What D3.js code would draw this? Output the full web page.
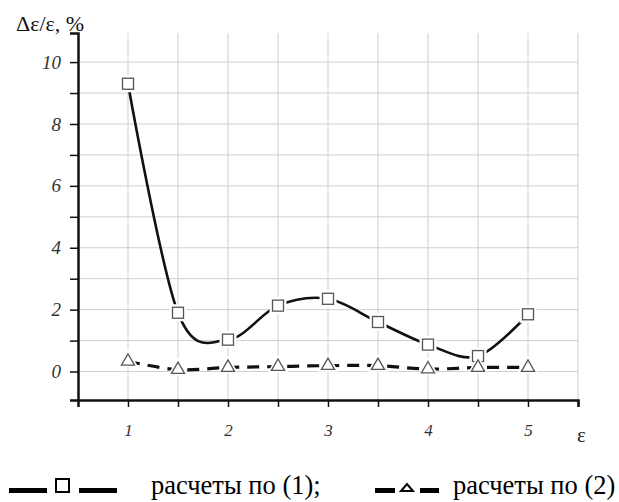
<!DOCTYPE html>
<html>
<head>
<meta charset="utf-8">
<script src="https://cdn.jsdelivr.net/npm/d3@7"></script>
</head>
<body style="margin:0; background:#fff">
<script>
var xValues = [1, 1.5, 2, 2.5, 3, 3.5, 4, 4.5, 5];
var series1 = [9.3, 1.9, 1.03, 2.13, 2.35, 1.6, 0.87, 0.5, 1.85];
var series2 = [0.33, 0.06, 0.13, 0.16, 0.19, 0.19, 0.08, 0.13, 0.13];
var yTickLabels = [0, 2, 4, 6, 8, 10];
var xTickLabels = [1, 2, 3, 4, 5];
var legendLabels = ["расчеты по (1);", "расчеты по (2)"];

var serif = "'Liberation Serif', 'Times New Roman', serif";
var width = 619, height = 502;

var x = d3.scaleLinear().domain([0.5, 5.5]).range([78, 578]);
var y = d3.scaleLinear().domain([-0.92, 10.94]).range([400, 33]);

var svg = d3.select("body").append("svg")
    .attr("width", width)
    .attr("height", height)
    .style("display", "block");

// grid
var grid = svg.append("g").attr("stroke", "#cfcfcf").attr("stroke-width", 1);
grid.selectAll("line.h")
    .data(d3.range(0, 11))
    .enter().append("line")
    .attr("x1", x(0.5)).attr("x2", x(5.5))
    .attr("y1", function(d) { return y(d); })
    .attr("y2", function(d) { return y(d); });
grid.selectAll("line.v")
    .data(d3.range(1, 5.6, 0.5))
    .enter().append("line")
    .attr("x1", function(d) { return x(d); })
    .attr("x2", function(d) { return x(d); })
    .attr("y1", y(10.94)).attr("y2", y(-0.92));

// axes
var yAxis = d3.axisLeft(y)
    .tickValues(d3.range(0, 11))
    .tickSize(8)
    .tickFormat(function(d) { return yTickLabels.indexOf(d) >= 0 ? d : ""; });
var gy = svg.append("g")
    .attr("transform", "translate(" + x(0.5) + ",0)")
    .attr("font-family", serif)
    .call(yAxis);

var xAxis = d3.axisBottom(x)
    .tickValues(d3.range(1, 5.6, 0.5))
    .tickSize(7)
    .tickFormat(function(d) { return xTickLabels.indexOf(d) >= 0 ? d : ""; });
var gx = svg.append("g")
    .attr("transform", "translate(0," + y(-0.92) + ")")
    .call(xAxis);

[gx, gy].forEach(function(g) {
    g.attr("font-family", serif);
    g.select(".domain").attr("stroke", "#111").attr("stroke-width", 2.5);
    g.selectAll(".tick line").attr("stroke", "#111").attr("stroke-width", 1.5);
    g.selectAll(".tick text")
        .attr("fill", "#333")
        .style("font-family", serif)
        .style("font-style", "italic");
});
gy.selectAll(".tick text").style("font-size", "19px").attr("x", -17);
gx.selectAll(".tick text").style("font-size", "17px").attr("y", 24);

// axis titles
svg.append("text")
    .attr("x", 16).attr("y", 31)
    .style("font-family", serif)
    .style("font-size", "22px")
    .attr("fill", "#111")
    .text("Δε/ε, %");
svg.append("text")
    .attr("x", 577).attr("y", 442)
    .style("font-family", serif)
    .style("font-size", "21px")
    .attr("fill", "#222")
    .text("ε");

var pts1 = xValues.map(function(d, i) { return [d, series1[i]]; });
var pts2 = xValues.map(function(d, i) { return [d, series2[i]]; });

var line = d3.line()
    .x(function(d) { return x(d[0]); })
    .y(function(d) { return y(d[1]); })
    .curve(d3.curveCatmullRom.alpha(0));

svg.append("path")
    .datum(pts1)
    .attr("d", line)
    .attr("fill", "none")
    .attr("stroke", "#111")
    .attr("stroke-width", 2.6);

svg.append("path")
    .datum(pts2)
    .attr("d", line)
    .attr("fill", "none")
    .attr("stroke", "#111")
    .attr("stroke-width", 3.2)
    .attr("stroke-dasharray", "12,8");

// markers with white halo
var sq = 11;
svg.selectAll("rect.halo")
    .data(pts1).enter().append("rect")
    .attr("x", function(d) { return x(d[0]) - sq / 2 - 3; })
    .attr("y", function(d) { return y(d[1]) - sq / 2 - 3; })
    .attr("width", sq + 6).attr("height", sq + 6)
    .attr("fill", "#fff");
svg.selectAll("rect.mark")
    .data(pts1).enter().append("rect")
    .attr("x", function(d) { return x(d[0]) - sq / 2; })
    .attr("y", function(d) { return y(d[1]) - sq / 2; })
    .attr("width", sq).attr("height", sq)
    .attr("fill", "#fff")
    .attr("stroke", "#555")
    .attr("stroke-width", 1.3);

var tri = d3.symbol().type(d3.symbolTriangle).size(75);
svg.selectAll("path.halo")
    .data(pts2).enter().append("path")
    .attr("d", d3.symbol().type(d3.symbolTriangle).size(190))
    .attr("transform", function(d) { return "translate(" + x(d[0]) + "," + y(d[1]) + ")"; })
    .attr("fill", "#fff");
svg.selectAll("path.mark")
    .data(pts2).enter().append("path")
    .attr("d", tri)
    .attr("transform", function(d) { return "translate(" + x(d[0]) + "," + y(d[1]) + ")"; })
    .attr("fill", "#fff")
    .attr("stroke", "#555")
    .attr("stroke-width", 1.3);

// legend
var ly = 490.5;
var lg = svg.append("g");
lg.append("line").attr("x1", 9).attr("x2", 47).attr("y1", ly).attr("y2", ly)
    .attr("stroke", "#000").attr("stroke-width", 5);
lg.append("rect").attr("x", 56).attr("y", 479).attr("width", 13).attr("height", 13)
    .attr("fill", "#fff").attr("stroke", "#000").attr("stroke-width", 2);
lg.append("line").attr("x1", 79).attr("x2", 117).attr("y1", ly).attr("y2", ly)
    .attr("stroke", "#000").attr("stroke-width", 5);
lg.append("text").attr("x", 151).attr("y", 494)
    .style("font-family", serif)
    .style("font-size", "26.5px").attr("fill", "#000")
    .text(legendLabels[0]);

lg.append("line").attr("x1", 375).attr("x2", 395).attr("y1", ly).attr("y2", ly)
    .attr("stroke", "#000").attr("stroke-width", 5);
lg.append("path").attr("d", "M401,491L407,484L413,491Z")
    .attr("fill", "#fff").attr("stroke", "#000").attr("stroke-width", 2);
lg.append("line").attr("x1", 420).attr("x2", 439).attr("y1", ly).attr("y2", ly)
    .attr("stroke", "#000").attr("stroke-width", 5);
lg.append("text").attr("x", 453).attr("y", 494)
    .style("font-family", serif)
    .style("font-size", "26.5px").attr("fill", "#000")
    .text(legendLabels[1]);
</script>
</body>
</html>
